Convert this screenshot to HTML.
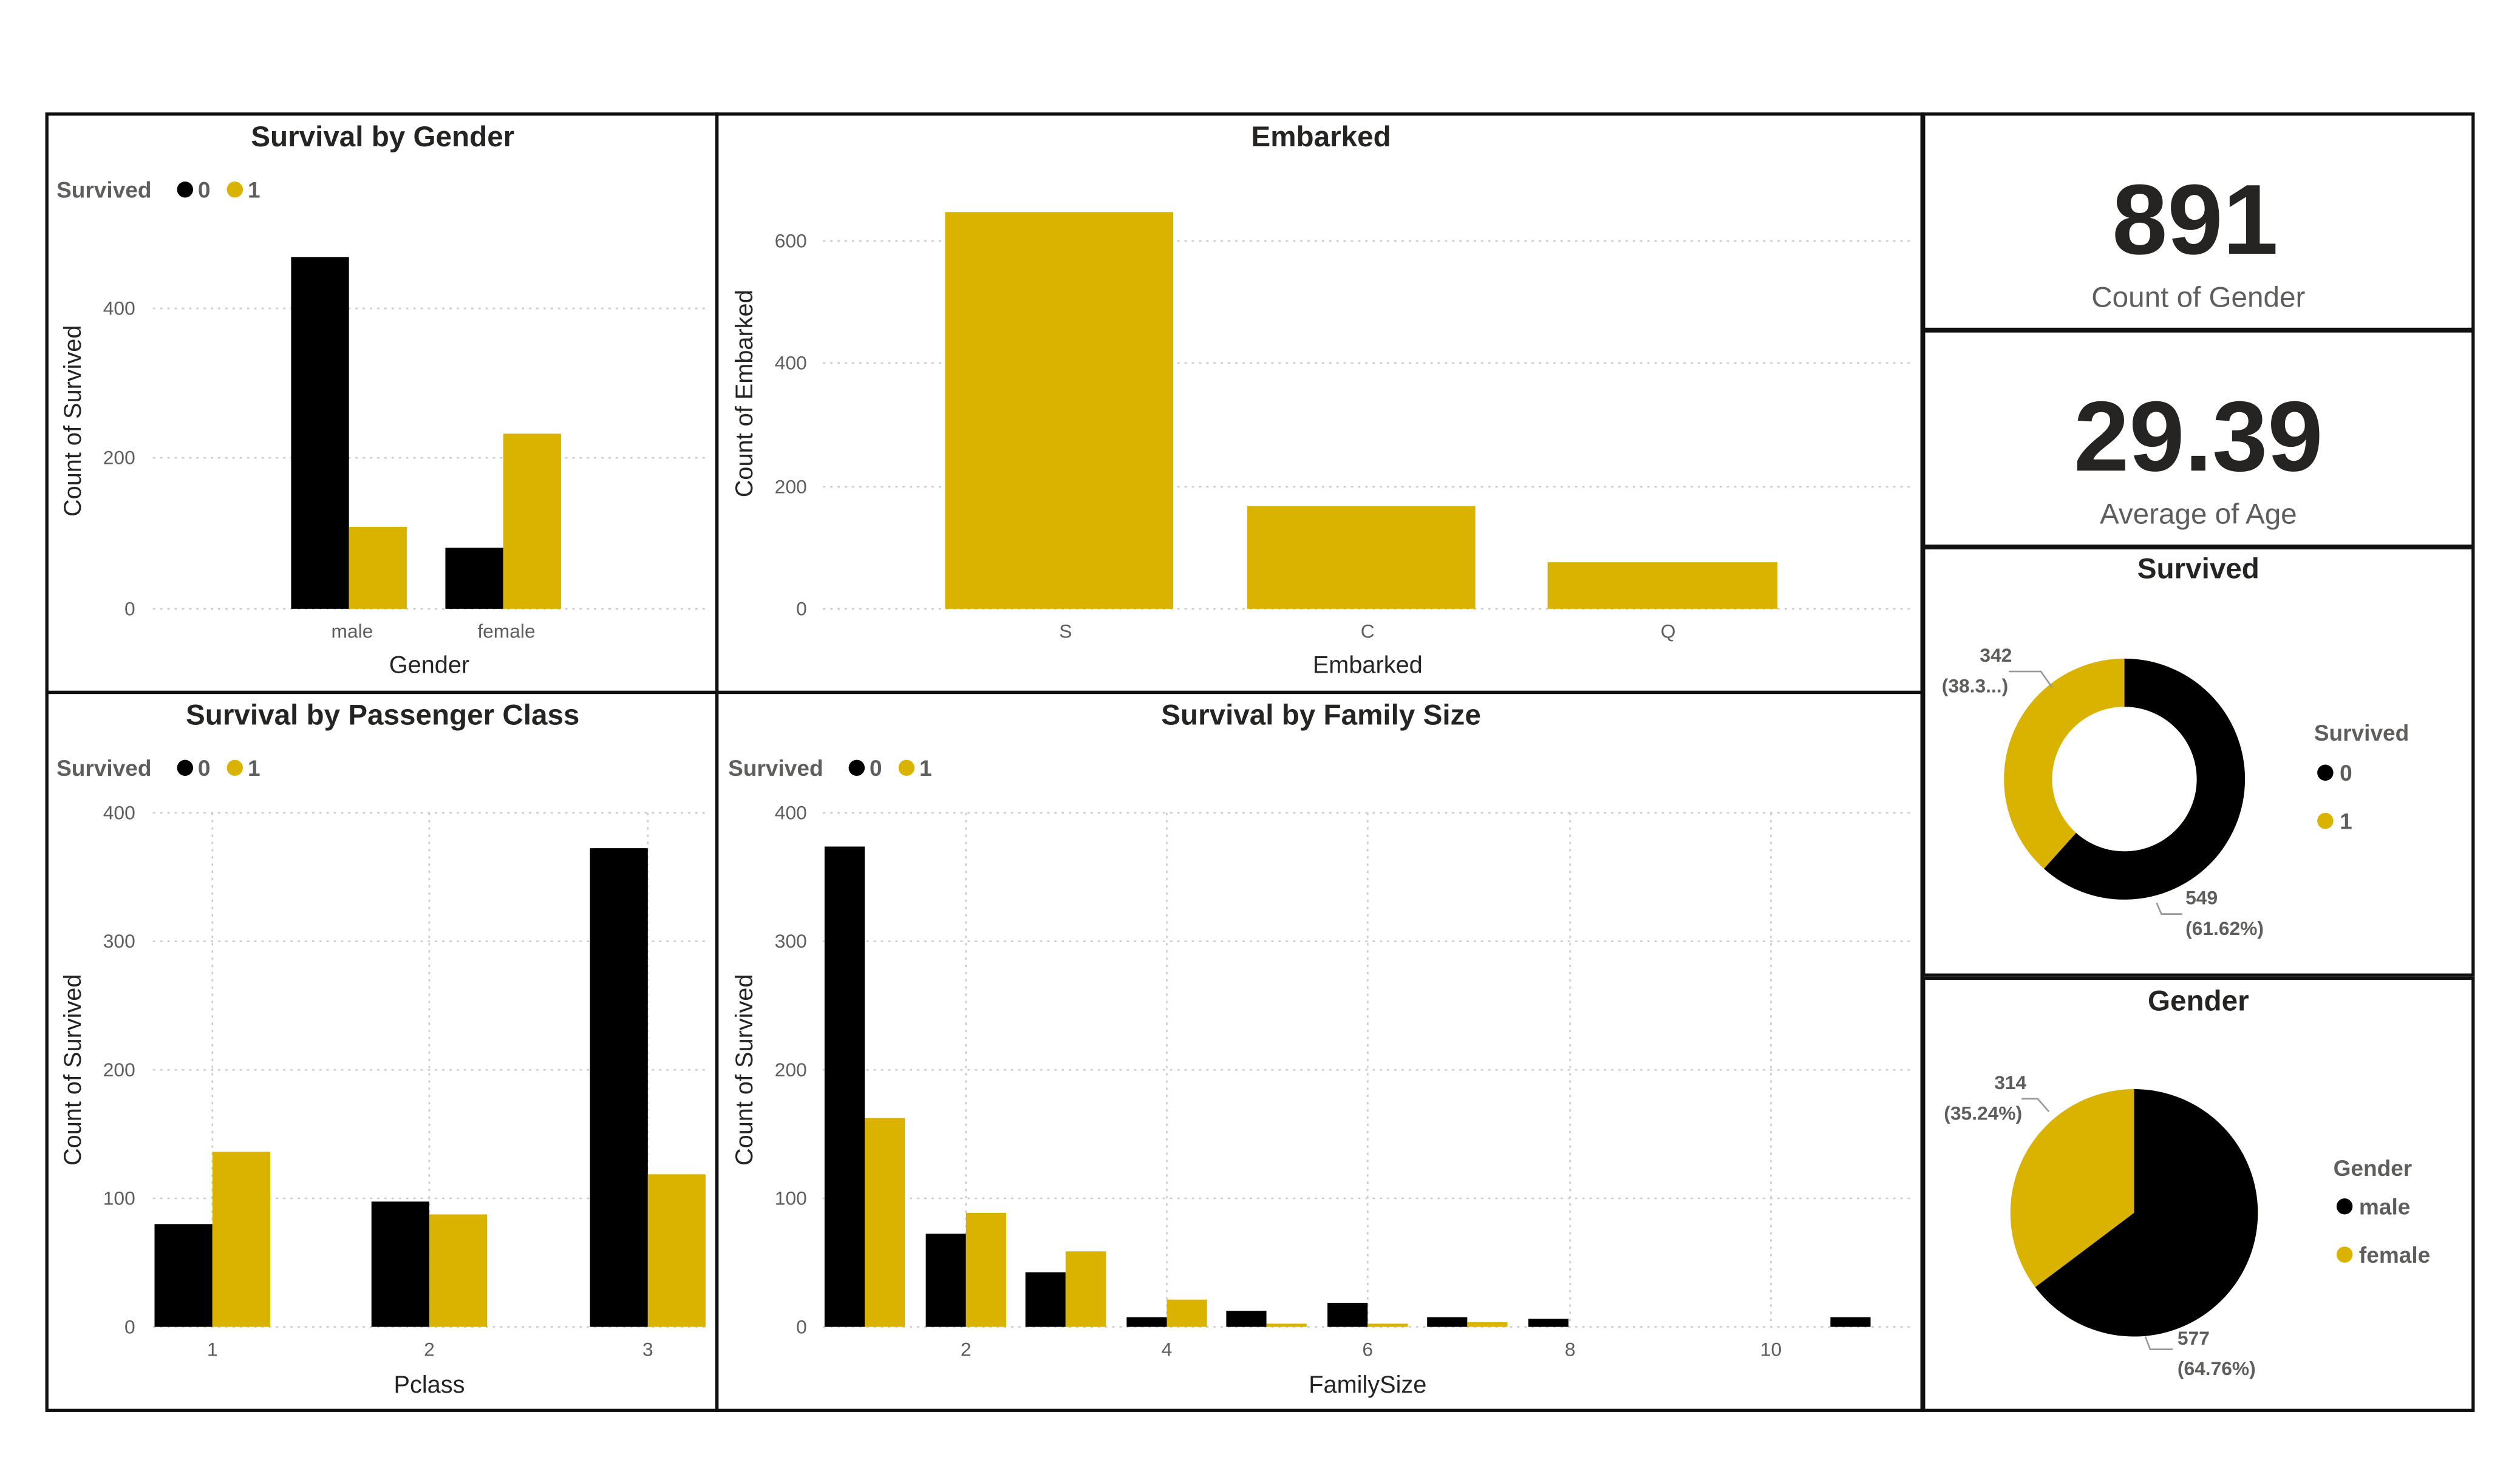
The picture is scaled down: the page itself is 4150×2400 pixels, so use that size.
<!DOCTYPE html>
<html><head><meta charset="utf-8"><style>
html,body{margin:0;padding:0;background:#fff;}
svg{display:block;}
text{font-family:"Liberation Sans","DejaVu Sans",sans-serif;}
.t{font-size:18px;font-weight:bold;fill:#252423;text-anchor:middle;}
.tk{font-size:12px;fill:#605e5c;}
.al{font-size:15px;fill:#252423;text-anchor:middle;}
.lg{font-size:14px;font-weight:bold;fill:#605e5c;}
.g{stroke:#ccc;stroke-width:1;stroke-dasharray:1.5,3;}
.p{fill:none;stroke:#111;stroke-width:2;}
.lb{font-size:12px;font-weight:bold;fill:#605e5c;}
</style></head><body>
<svg width="4150" height="2400" viewBox="0 0 1568 907" xmlns="http://www.w3.org/2000/svg">
<rect width="1568" height="907" fill="#fff"/>
<rect class="p" x="29" y="71" width="417" height="360"/>
<rect class="p" x="446" y="71" width="750" height="360"/>
<rect class="p" x="29" y="431" width="417" height="447"/>
<rect class="p" x="446" y="431" width="750" height="447"/>
<rect class="p" x="1197" y="71" width="342" height="134"/>
<rect class="p" x="1197" y="206" width="342" height="134"/>
<rect class="p" x="1197" y="341" width="342" height="266"/>
<rect class="p" x="1197" y="609" width="342" height="269"/>

<text class="t" x="238" y="91">Survival by Gender</text>
<text class="lg" x="35" y="123">Survived</text><circle cx="115" cy="118" r="5" fill="#000"/><text class="lg" x="123" y="123">0</text><circle cx="146" cy="118" r="5" fill="#d9b300"/><text class="lg" x="154" y="123">1</text>
<line class="g" x1="95" y1="192" x2="440" y2="192"/><line class="g" x1="95" y1="285" x2="440" y2="285"/><line class="g" x1="95" y1="379" x2="440" y2="379"/>
<text class="tk" x="84" y="196" text-anchor="end">400</text><text class="tk" x="84" y="289" text-anchor="end">200</text><text class="tk" x="84" y="383" text-anchor="end">0</text>
<text class="al" transform="translate(50,262) rotate(-90)">Count of Survived</text>
<rect x="181" y="160" width="36" height="219" fill="#000"/><rect x="217" y="328" width="36" height="51" fill="#d9b300"/>
<rect x="277" y="341" width="36" height="38" fill="#000"/><rect x="313" y="270" width="36" height="109" fill="#d9b300"/>
<text class="tk" x="219" y="397" text-anchor="middle">male</text><text class="tk" x="315" y="397" text-anchor="middle">female</text>
<text class="al" x="267" y="419">Gender</text>

<text class="t" x="822" y="91">Embarked</text>
<line class="g" x1="512" y1="150" x2="1190" y2="150"/><line class="g" x1="512" y1="226" x2="1190" y2="226"/><line class="g" x1="512" y1="303" x2="1190" y2="303"/><line class="g" x1="512" y1="379" x2="1190" y2="379"/>
<text class="tk" x="502" y="154" text-anchor="end">600</text><text class="tk" x="502" y="230" text-anchor="end">400</text><text class="tk" x="502" y="307" text-anchor="end">200</text><text class="tk" x="502" y="383" text-anchor="end">0</text>
<text class="al" transform="translate(468,245) rotate(-90)">Count of Embarked</text>
<rect x="588" y="132" width="142" height="247" fill="#d9b300"/>
<rect x="776" y="315" width="142" height="64" fill="#d9b300"/>
<rect x="963" y="350" width="143" height="29" fill="#d9b300"/>
<text class="tk" x="663" y="397" text-anchor="middle">S</text><text class="tk" x="851" y="397" text-anchor="middle">C</text><text class="tk" x="1038" y="397" text-anchor="middle">Q</text>
<text class="al" x="851" y="419">Embarked</text>

<text class="t" x="238" y="451">Survival by Passenger Class</text>
<text class="lg" x="35" y="483">Survived</text><circle cx="115" cy="478" r="5" fill="#000"/><text class="lg" x="123" y="483">0</text><circle cx="146" cy="478" r="5" fill="#d9b300"/><text class="lg" x="154" y="483">1</text>
<line class="g" x1="95" y1="506" x2="440" y2="506"/><line class="g" x1="95" y1="586" x2="440" y2="586"/><line class="g" x1="95" y1="666" x2="440" y2="666"/><line class="g" x1="95" y1="746" x2="440" y2="746"/><line class="g" x1="95" y1="826" x2="440" y2="826"/>
<line class="g" x1="132" y1="506" x2="132" y2="826"/><line class="g" x1="267" y1="506" x2="267" y2="826"/><line class="g" x1="403" y1="506" x2="403" y2="826"/>
<text class="tk" x="84" y="510" text-anchor="end">400</text><text class="tk" x="84" y="590" text-anchor="end">300</text><text class="tk" x="84" y="670" text-anchor="end">200</text><text class="tk" x="84" y="750" text-anchor="end">100</text><text class="tk" x="84" y="830" text-anchor="end">0</text>
<text class="al" transform="translate(50,666) rotate(-90)">Count of Survived</text>
<rect x="96" y="762" width="36" height="64" fill="#000"/><rect x="132" y="717" width="36" height="109" fill="#d9b300"/>
<rect x="231" y="748" width="36" height="78" fill="#000"/><rect x="267" y="756" width="36" height="70" fill="#d9b300"/>
<rect x="367" y="528" width="36" height="298" fill="#000"/><rect x="403" y="731" width="36" height="95" fill="#d9b300"/>
<text class="tk" x="132" y="844" text-anchor="middle">1</text><text class="tk" x="267" y="844" text-anchor="middle">2</text><text class="tk" x="403" y="844" text-anchor="middle">3</text>
<text class="al" x="267" y="867">Pclass</text>

<text class="t" x="822" y="451">Survival by Family Size</text>
<text class="lg" x="453" y="483">Survived</text><circle cx="533" cy="478" r="5" fill="#000"/><text class="lg" x="541" y="483">0</text><circle cx="564" cy="478" r="5" fill="#d9b300"/><text class="lg" x="572" y="483">1</text>
<line class="g" x1="512" y1="506" x2="1190" y2="506"/><line class="g" x1="512" y1="586" x2="1190" y2="586"/><line class="g" x1="512" y1="666" x2="1190" y2="666"/><line class="g" x1="512" y1="746" x2="1190" y2="746"/><line class="g" x1="512" y1="826" x2="1190" y2="826"/>
<line class="g" x1="601" y1="506" x2="601" y2="826"/><line class="g" x1="726" y1="506" x2="726" y2="826"/><line class="g" x1="851" y1="506" x2="851" y2="826"/><line class="g" x1="977" y1="506" x2="977" y2="826"/><line class="g" x1="1102" y1="506" x2="1102" y2="826"/>
<text class="tk" x="502" y="510" text-anchor="end">400</text><text class="tk" x="502" y="590" text-anchor="end">300</text><text class="tk" x="502" y="670" text-anchor="end">200</text><text class="tk" x="502" y="750" text-anchor="end">100</text><text class="tk" x="502" y="830" text-anchor="end">0</text>
<text class="al" transform="translate(468,666) rotate(-90)">Count of Survived</text>
<rect x="513" y="527" width="25" height="299" fill="#000"/><rect x="538" y="696" width="25" height="130" fill="#d9b300"/>
<rect x="576" y="768" width="25" height="58" fill="#000"/><rect x="601" y="755" width="25" height="71" fill="#d9b300"/>
<rect x="638" y="792" width="25" height="34" fill="#000"/><rect x="663" y="779" width="25" height="47" fill="#d9b300"/>
<rect x="701" y="820" width="25" height="6" fill="#000"/><rect x="726" y="809" width="25" height="17" fill="#d9b300"/>
<rect x="763" y="816" width="25" height="10" fill="#000"/><rect x="788" y="824" width="25" height="2" fill="#d9b300"/>
<rect x="826" y="811" width="25" height="15" fill="#000"/><rect x="851" y="824" width="25" height="2" fill="#d9b300"/>
<rect x="888" y="820" width="25" height="6" fill="#000"/><rect x="913" y="823" width="25" height="3" fill="#d9b300"/>
<rect x="951" y="821" width="25" height="5" fill="#000"/>
<rect x="1139" y="820" width="25" height="6" fill="#000"/>
<text class="tk" x="601" y="844" text-anchor="middle">2</text><text class="tk" x="726" y="844" text-anchor="middle">4</text><text class="tk" x="851" y="844" text-anchor="middle">6</text><text class="tk" x="977" y="844" text-anchor="middle">8</text><text class="tk" x="1102" y="844" text-anchor="middle">10</text>
<text class="al" x="851" y="867">FamilySize</text>

<text x="1366" y="158" text-anchor="middle" style="font-size:62px;font-weight:bold;fill:#252423;">891</text>
<text x="1368" y="191" text-anchor="middle" style="font-size:18px;fill:#605e5c;">Count of Gender</text>
<text x="1368" y="293" text-anchor="middle" style="font-size:62px;font-weight:bold;fill:#252423;">29.39</text>
<text x="1368" y="326" text-anchor="middle" style="font-size:18px;fill:#605e5c;">Average of Age</text>

<text class="t" x="1368" y="360">Survived</text>
<circle cx="1322" cy="485" r="60" fill="none" stroke="#d9b300" stroke-width="30"/>
<circle cx="1322" cy="485" r="60" fill="none" stroke="#000" stroke-width="30" stroke-dasharray="232.3 400" transform="rotate(-90 1322 485)"/>
<polyline points="1250,418 1270,418 1277,428" fill="none" stroke="#999" stroke-width="1"/>
<text class="lb" x="1242" y="412" text-anchor="middle">342</text><text class="lb" x="1229" y="431" text-anchor="middle">(38.3...)</text>
<polyline points="1342,562 1345,569 1358,569" fill="none" stroke="#999" stroke-width="1"/>
<text class="lb" x="1360" y="563">549</text><text class="lb" x="1360" y="582">(61.62%)</text>
<text class="lg" x="1440" y="461">Survived</text>
<circle cx="1447" cy="481" r="5" fill="#000"/><text class="lg" x="1456" y="486">0</text>
<circle cx="1447" cy="511" r="5" fill="#d9b300"/><text class="lg" x="1456" y="516">1</text>

<text class="t" x="1368" y="629">Gender</text>
<circle cx="1328" cy="755" r="77" fill="#d9b300"/>
<path d="M1328,755 L1328,678 A77,77 0 1,1 1266.5,801.3 Z" fill="#000"/>
<polyline points="1258,684 1268,684 1275,692" fill="none" stroke="#999" stroke-width="1"/>
<text class="lb" x="1251" y="678" text-anchor="middle">314</text><text class="lb" x="1234" y="697" text-anchor="middle">(35.24%)</text>
<polyline points="1335,832 1338,840 1352,840" fill="none" stroke="#999" stroke-width="1"/>
<text class="lb" x="1355" y="837">577</text><text class="lb" x="1355" y="856">(64.76%)</text>
<text class="lg" x="1452" y="732">Gender</text>
<circle cx="1459" cy="751" r="5" fill="#000"/><text class="lg" x="1468" y="756">male</text>
<circle cx="1459" cy="781" r="5" fill="#d9b300"/><text class="lg" x="1468" y="786">female</text>
</svg>
</body></html>
